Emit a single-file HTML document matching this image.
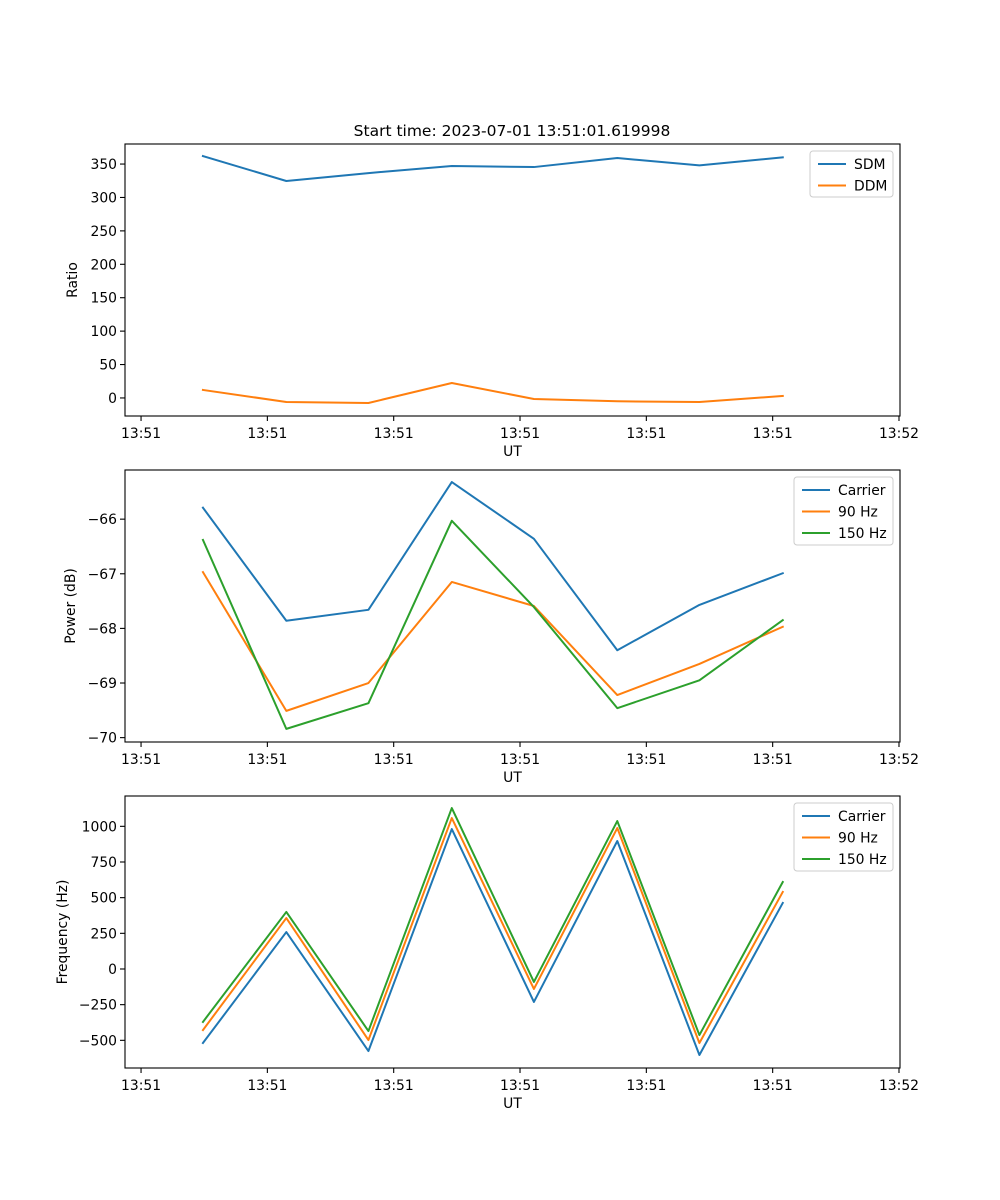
<!DOCTYPE html>
<html><head><meta charset="utf-8"><style>
body{margin:0;background:#fff}
svg{display:block;font-family:"DejaVu Sans","Liberation Sans",sans-serif}
</style></head><body>
<svg id="fig" width="1000" height="1200" viewBox="0 0 1000 1200">
<rect width="1000" height="1200" fill="#fff"/>
<text x="512" y="136" font-size="15.5" text-anchor="middle">Start time: 2023-07-01 13:51:01.619998</text>
</svg>
<script>
const times = [4.9, 11.5, 18.0, 24.6, 31.1, 37.7, 44.2, 50.8];
const xTicks = [0, 10, 20, 30, 40, 50, 60];
const xTickLabels = ["13:51","13:51","13:51","13:51","13:51","13:51","13:52"];
const sdm = [362, 324.6, 336.5, 347, 345.5, 359, 348, 360];
const ddm = [12, -6, -7.5, 22.4, -1.5, -5, -6, 3];
const pwrCarrier = [-65.79, -67.86, -67.66, -65.32, -66.36, -68.40, -67.57, -66.99];
const pwr90 = [-66.97, -69.51, -69.0, -67.15, -67.59, -69.22, -68.65, -67.97];
const pwr150 = [-66.38, -69.84, -69.37, -66.03, -67.61, -69.46, -68.95, -67.85];
const frqCarrier = [-519, 259, -575, 981, -231, 897, -603, 463];
const frq90 = [-428, 357, -498, 1058, -140, 988, -519, 540];
const frq150 = [-371, 400, -435, 1128, -91, 1037, -463, 610];
const ratioTicks = [0,50,100,150,200,250,300,350];
const powerTicks = [-70,-69,-68,-67,-66];
const freqTicks = [-500,-250,0,250,500,750,1000];

const NS="http://www.w3.org/2000/svg";
const svg=document.getElementById('fig');
const C=['#1f77b4','#ff7f0e','#2ca02c'];
function el(t,a,p){const e=document.createElementNS(NS,t);for(const k in a)e.setAttribute(k,a[k]);(p||svg).appendChild(e);return e;}
const L=125,R=900,xmin=-1.27,xmax=60.08;
function xs(v){return L+(v-xmin)/(xmax-xmin)*(R-L);}
function panel(name,top,bot,ymin,ymax,yt,ylab,series,names,lw,lh,fmt){
  const g=el('g',{});
  
  
  const ys=v=>bot-(v-ymin)/(ymax-ymin)*(bot-top);
  series.forEach((s,i)=>{
    const p=el('polyline',{points:s.map((v,j)=>xs(times[j]).toFixed(2)+','+ys(v).toFixed(2)).join(' '),fill:'none',stroke:C[i],'stroke-width':2,'stroke-linejoin':'round','stroke-linecap':'square'},g);
    
    
  });
  const fr=el('rect',{x:L,y:top,width:R-L,height:bot-top,fill:'none',stroke:'#000','stroke-width':1.1},g);
  
  
  xTicks.forEach((t,i)=>{
    const x=xs(t);
    el('line',{x1:x,x2:x,y1:bot,y2:bot+5,stroke:'#000','stroke-width':1.1},g);
    const tx=el('text',{x:x,y:bot+22,'font-size':13.9,'text-anchor':'middle'},g);
    tx.textContent=xTickLabels[i];
    
    
  });
  const xl=el('text',{x:(L+R)/2,y:bot+40,'font-size':13.9,'text-anchor':'middle'},g);
  xl.textContent='UT';
  
  
  yt.forEach(t=>{
    const y=ys(t);
    el('line',{x1:L-5,x2:L,y1:y,y2:y,stroke:'#000','stroke-width':1.1},g);
    const tx=el('text',{x:L-8,y:y+5,'font-size':13.9,'text-anchor':'end'},g);
    tx.textContent=fmt(t);
    
    
  });
  const yl=el('text',{x:0,y:0,'font-size':13.9,'text-anchor':'middle',transform:`translate(${L-ylab[1]},${(top+bot)/2}) rotate(-90)`},g);
  yl.textContent=ylab[0];
  
  
  const lg=el('g',{},g);
  
  
  el('rect',{x:R-7-lw,y:top+7,width:lw,height:lh,rx:3,fill:'#fff','fill-opacity':0.8,stroke:'#ccc'},lg);
  names.forEach((n,i)=>{
    const y=top+7+13+i*21.5;
    el('line',{x1:R-7-lw+8,x2:R-7-lw+36,y1:y,y2:y,stroke:C[i],'stroke-width':2},lg);
    const tx=el('text',{x:R-7-lw+44,y:y+5,'font-size':13.9},lg);
    tx.textContent=n;
    
    
  });
}
const minus=t=>String(t).replace('-','\u2212');
panel('ratio',144,416,-27,380,ratioTicks,['Ratio',48],[sdm,ddm],['SDM','DDM'],83,46,minus);
panel('power',470,742,-70.08,-65.10,powerTicks,['Power (dB)',50],[pwrCarrier,pwr90,pwr150],['Carrier','90 Hz','150 Hz'],99,68,minus);
panel('frequency',796,1068,-694,1212.6,freqTicks,['Frequency (Hz)',58],[frqCarrier,frq90,frq150],['Carrier','90 Hz','150 Hz'],99,68,minus);
</script>
</body></html>
